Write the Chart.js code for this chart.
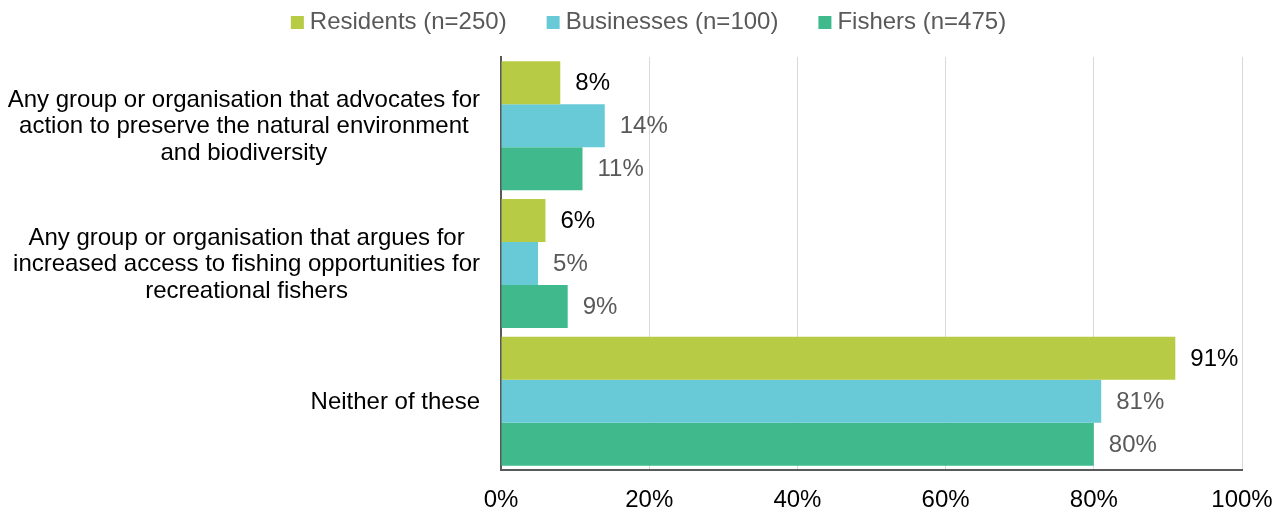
<!DOCTYPE html>
<html>
<head>
<meta charset="utf-8">
<title>Group support</title>
<script src="https://cdn.jsdelivr.net/npm/chart.js@4/dist/chart.umd.min.js"></script>
<style>
  html, body { margin: 0; padding: 0; background: #fff; }
</style>
</head>
<body>
<canvas id="chart" width="1285" height="512"></canvas>
<script>
// categories (one entry per line of the wrapped label)
const categories = [
  ['Any group or organisation that advocates for', 'action to preserve the natural environment', 'and biodiversity'],
  ['Any group or organisation that argues for', 'increased access to fishing opportunities for', 'recreational fishers'],
  ['Neither of these']
];
const seriesNames = ['Residents (n=250)', 'Businesses (n=100)', 'Fishers (n=475)'];
const residents  = [8, 6, 91];
const businesses = [14, 5, 81];
const fishers    = [11, 9, 80];
const xTicks = [0, 20, 40, 60, 80, 100];

// styles
const FONT = '"Liberation Sans", Arial, sans-serif';
const barColors   = ['#b8cb45', '#68cad7', '#40ba8c'];
const labelColors = ['#000000', '#595959', '#595959'];
const AXIS = '#595959';

/* value labels to the right of each bar */
const valueLabels = {
  id: 'valueLabels',
  afterDatasetsDraw(chart) {
    const ctx = chart.ctx;
    ctx.save();
    ctx.font = '24px ' + FONT;
    ctx.textAlign = 'left';
    ctx.textBaseline = 'middle';
    chart.data.datasets.forEach((ds, i) => {
      chart.getDatasetMeta(i).data.forEach((bar, j) => {
        ctx.fillStyle = labelColors[i];
        ctx.fillText(ds.data[j] + '%', bar.x + 15, bar.y + 1);
      });
    });
    ctx.restore();
  }
};

/* category labels: block right-aligned to the axis, lines centred inside it */
const catLabels = {
  id: 'catLabels',
  afterDraw(chart) {
    const ctx = chart.ctx, y = chart.scales.y;
    const right = chart.chartArea.left - 21, lh = 26.5;
    ctx.save();
    ctx.font = '24px ' + FONT;
    ctx.fillStyle = '#000';
    ctx.textAlign = 'center';
    ctx.textBaseline = 'middle';
    categories.forEach((lines, i) => {
      const w = Math.max(...lines.map(t => ctx.measureText(t).width));
      const cx = right - w / 2;
      const cy = y.getPixelForTick(i) + 1;
      lines.forEach((t, k) => ctx.fillText(t, cx, cy + (k - (lines.length - 1) / 2) * lh));
    });
    ctx.restore();
  }
};

/* legend row across the top */
const topLegend = {
  id: 'topLegend',
  afterDraw(chart) {
    const ctx = chart.ctx, box = 13, gap = 6, sep = 40, cy = 22.5;
    ctx.save();
    ctx.font = '24px ' + FONT;
    ctx.textBaseline = 'middle';
    ctx.textAlign = 'left';
    const items = chart.data.datasets.map(ds => ({ t: ds.label, c: ds.backgroundColor, w: ctx.measureText(ds.label).width }));
    const total = items.reduce((s, it) => s + box + gap + it.w, 0) + sep * (items.length - 1);
    let x = chart.width / 2 + 6 - total / 2;
    items.forEach(it => {
      ctx.fillStyle = it.c;
      ctx.fillRect(x, cy - box / 2, box, box);
      ctx.fillStyle = '#595959';
      ctx.fillText(it.t, x + box + gap, cy);
      x += box + gap + it.w + sep;
    });
    ctx.restore();
  }
};

new Chart(document.getElementById('chart'), {
  type: 'bar',
  data: {
    labels: categories,
    datasets: [residents, businesses, fishers].map((d, i) => ({
      label: seriesNames[i],
      data: d,
      backgroundColor: barColors[i],
      categoryPercentage: 0.937,
      barPercentage: 1
    }))
  },
  plugins: [valueLabels, catLabels, topLegend],
  options: {
    indexAxis: 'y',
    responsive: false,
    animation: false,
    layout: { padding: { top: 57, right: 43, bottom: 0, left: 0 } },
    plugins: { legend: { display: false }, tooltip: { enabled: false } },
    scales: {
      x: {
        min: 0, max: 100,
        afterBuildTicks: s => { s.ticks = xTicks.map(v => ({ value: v })); },
        ticks: { callback: v => v + '%', color: '#000', font: { family: FONT, size: 24 }, padding: 16, maxRotation: 0 },
        grid: { color: '#d9d9d9', lineWidth: 1, drawTicks: false },
        border: { color: AXIS, width: 2 },
        afterFit: s => { s.height = 42; s.paddingLeft = 0; s.paddingRight = 0; }
      },
      y: {
        ticks: { display: false },
        grid: { display: false, drawTicks: false },
        border: { color: AXIS, width: 2 },
        afterFit: s => { s.width = 501; }
      }
    }
  }
});
</script>
</body>
</html>
